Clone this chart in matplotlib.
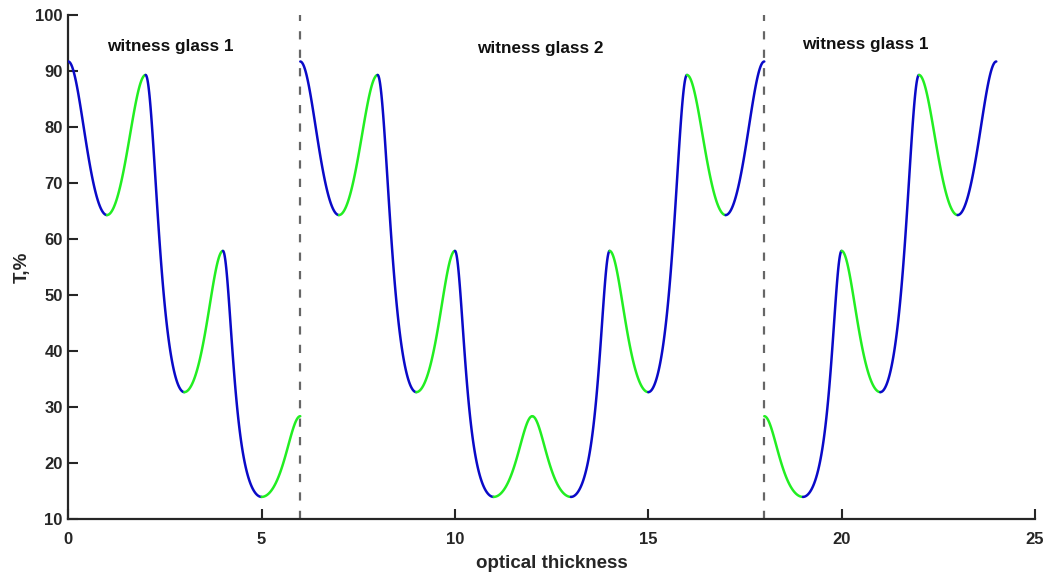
import numpy as np
import matplotlib
matplotlib.use("Agg")
import matplotlib.pyplot as plt

# ---- data ----
# Transmittance (%) at layer boundaries (turning points), one list per monitoring run
glass1a_x = [0, 1, 2, 3, 4, 5, 6]
glass1a_T = [91.7, 64.3, 89.3, 32.7, 57.9, 14.0, 28.4]
glass1a_layers = ["H", "L", "H", "L", "H", "L"]

glass2_x = [6, 7, 8, 9, 10, 11, 12, 13, 14, 15, 16, 17, 18]
glass2_T = [91.7, 64.3, 89.3, 32.7, 57.9, 14.0, 28.4, 14.0, 57.9, 32.7, 89.3, 64.3, 91.7]
glass2_layers = ["H", "L", "H", "L", "H", "L", "L", "H", "L", "H", "L", "H"]

glass1b_x = [18, 19, 20, 21, 22, 23, 24]
glass1b_T = [28.4, 14.0, 57.9, 32.7, 89.3, 64.3, 91.7]
glass1b_layers = ["L", "H", "L", "H", "L", "H"]

switch_x = [6, 18]
labels = ["witness glass 1", "witness glass 2", "witness glass 1"]
label_x = [2.65, 12.2, 20.6]
label_y = [94.4, 94.0, 94.8]

layer_colors = {"H": "#0a0ac8", "L": "#22ee22"}
TXT = "#262626"

plt.rcParams["font.family"] = ["Liberation Sans", "DejaVu Sans"]
plt.rcParams["font.weight"] = "bold"

fig = plt.figure(figsize=(10.47, 5.73), dpi=100)
ax = fig.add_axes([0.0652, 0.0937, 0.9233, 0.8801])


def draw_run(xs, Ts, layers):
    # each quarter-wave layer: 1/T follows a raised cosine of the phase
    for i, mat in enumerate(layers):
        t = np.linspace(0.0, 1.0, 120)
        ia, ib = 1.0 / Ts[i], 1.0 / Ts[i + 1]
        inv = 0.5 * (ia + ib) + 0.5 * (ia - ib) * np.cos(np.pi * t)
        x = xs[i] + (xs[i + 1] - xs[i]) * t
        ax.plot(x, 1.0 / inv, color=layer_colors[mat], lw=1.8,
                solid_capstyle="round", zorder=3)


draw_run(glass1a_x, glass1a_T, glass1a_layers)
draw_run(glass2_x, glass2_T, glass2_layers)
draw_run(glass1b_x, glass1b_T, glass1b_layers)

for sx in switch_x:
    ax.axvline(sx, color="#666666", lw=1.6, linestyle=(0, (3.7, 4.6)), zorder=2)

for s, lx, ly in zip(labels, label_x, label_y):
    ax.text(lx, ly, s, ha="center", va="center", fontsize=12.3,
            fontweight="bold", color="#111111")

ax.set_xlim(0, 25)
ax.set_ylim(10, 100)
ax.set_xticks(np.arange(0, 26, 5))
ax.set_yticks(np.arange(10, 101, 10))
ax.tick_params(direction="in", length=7, width=1.5, colors=TXT,
               labelsize=12, labelcolor=TXT)
ax.tick_params(axis="x", pad=9)
ax.tick_params(axis="y", pad=4)
for lab in ax.get_xticklabels() + ax.get_yticklabels():
    lab.set_fontweight("bold")

for side in ["top", "right"]:
    ax.spines[side].set_visible(False)
for side in ["left", "bottom"]:
    ax.spines[side].set_linewidth(1.6)
    ax.spines[side].set_color(TXT)

ax.set_xlabel("optical thickness", fontsize=13.5, fontweight="bold",
              color=TXT, labelpad=6)
ax.set_ylabel("T,%", fontsize=13.5, fontweight="bold", color=TXT, labelpad=3)

fig.savefig("out.png", dpi=100)
